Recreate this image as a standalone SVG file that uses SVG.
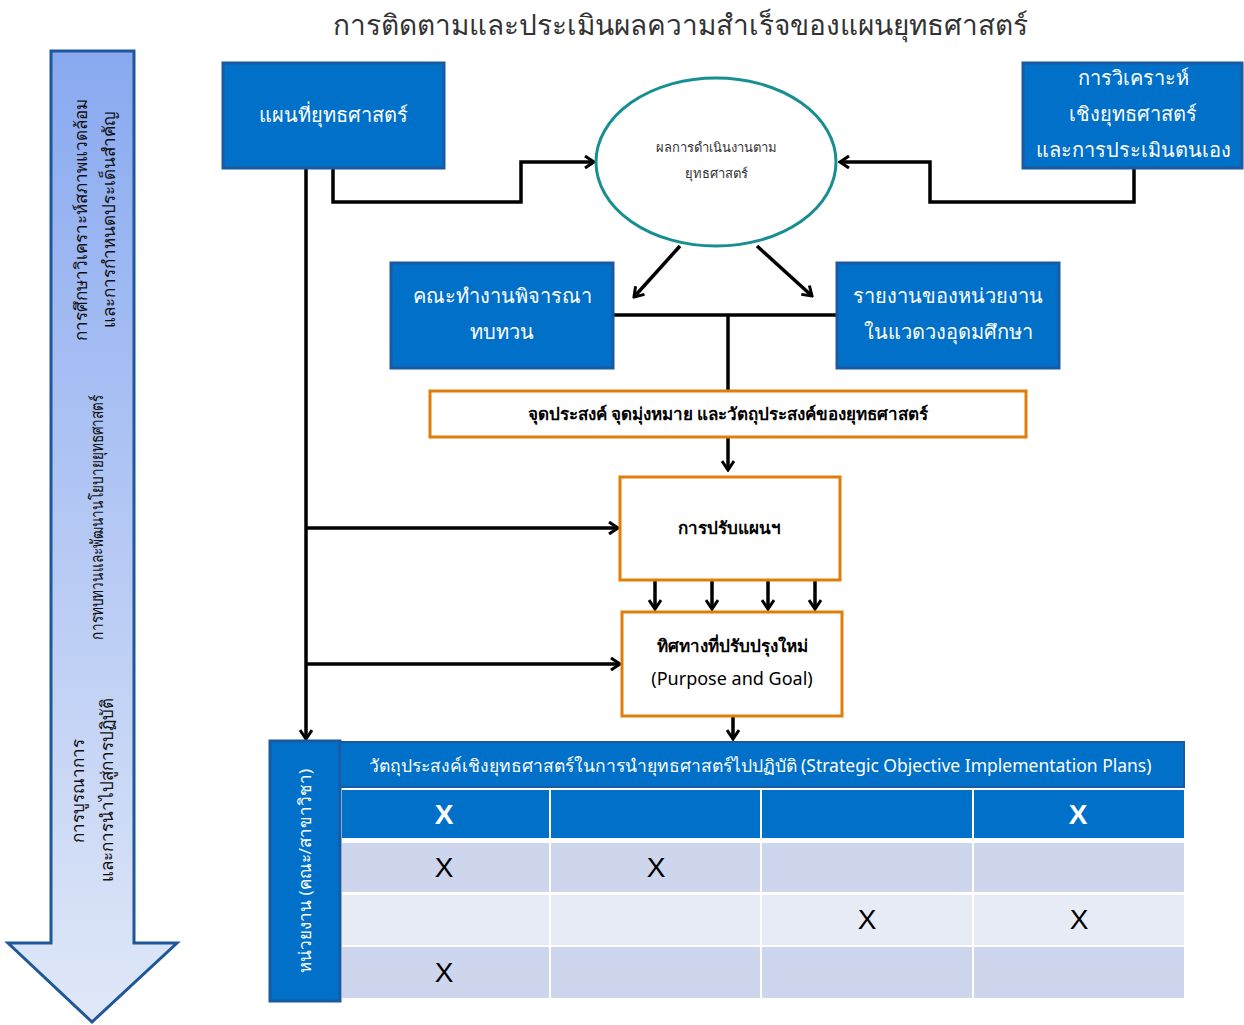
<svg xmlns="http://www.w3.org/2000/svg" width="1244" height="1025" viewBox="0 0 1244 1025">
<defs>
<linearGradient id="g1" x1="0" y1="0" x2="0" y2="1">
<stop offset="0" stop-color="#89a9f0"/>
<stop offset="1" stop-color="#e0e8f8"/>
</linearGradient>
<marker id="arr" markerWidth="12" markerHeight="14" refX="10" refY="7" orient="auto" markerUnits="userSpaceOnUse">
<path d="M1,1 L10,7 L1,13" fill="none" stroke="#000" stroke-width="3"/>
</marker>
<style>
text{font-family:"Noto Sans","DejaVu Sans","Liberation Sans",sans-serif}
.bb{fill:#0070c9;stroke:#1a5aa0;stroke-width:3}
.ob{fill:#fff;stroke:#e17d0a;stroke-width:3}
.wt{fill:#fff;font-size:20px;text-anchor:middle}
.kt{fill:#000;font-size:17px;font-weight:600;text-anchor:middle}
.lt{fill:#111;font-size:17px;text-anchor:middle}
.ln{fill:none;stroke:#000;stroke-width:3.5}
.x{font-family:"Liberation Sans",sans-serif;font-size:28px;text-anchor:middle}
</style>
</defs>
<rect width="1244" height="1025" fill="#fff"/>
<text x="680" y="35" style="font-size:28px;fill:#333;text-anchor:middle">การติดตามและประเมินผลความสำเร็จของแผนยุทธศาสตร์</text>

<g id="side-arrow">
<polygon points="51,51 134,51 134,943 177,943 92,1022 8,943 51,943" fill="url(#g1)" stroke="#1f5799" stroke-width="3"/>
<text class="lt" transform="translate(87,220) rotate(-90)">การศึกษาวิเคราะห์สภาพแวดล้อม</text>
<text class="lt" transform="translate(115,220) rotate(-90)">และการกำหนดประเด็นสำคัญ</text>
<text class="lt" transform="translate(103,517) rotate(-90)" textLength="245" lengthAdjust="spacingAndGlyphs">การทบทวนและพัฒนานโยบายยุทธศาสตร์</text>
<text class="lt" transform="translate(84,791) rotate(-90)">การบูรณาการ</text>
<text class="lt" transform="translate(113,790) rotate(-90)">และการนำไปสู่การปฏิบัติ</text>
</g>

<g id="connectors">
<polyline class="ln" points="333,168 333,202 521,202 521,162 594,162" marker-end="url(#arr)"/>
<polyline class="ln" points="1134,168 1134,202 930,202 930,162 840,162" marker-end="url(#arr)"/>
<line class="ln" x1="680" y1="246" x2="634" y2="297" marker-end="url(#arr)"/>
<line class="ln" x1="757" y1="246" x2="812" y2="296" marker-end="url(#arr)"/>
<line class="ln" x1="613" y1="315" x2="837" y2="315"/>
<line class="ln" x1="728" y1="315" x2="728" y2="391"/>
<line class="ln" x1="728" y1="437" x2="728" y2="470" marker-end="url(#arr)"/>
<line class="ln" x1="655" y1="580" x2="655" y2="609" marker-end="url(#arr)"/>
<line class="ln" x1="712" y1="580" x2="712" y2="609" marker-end="url(#arr)"/>
<line class="ln" x1="768" y1="580" x2="768" y2="609" marker-end="url(#arr)"/>
<line class="ln" x1="815" y1="580" x2="815" y2="609" marker-end="url(#arr)"/>
<line class="ln" x1="733" y1="716" x2="733" y2="739" marker-end="url(#arr)"/>
<line class="ln" x1="306" y1="168" x2="306" y2="739" marker-end="url(#arr)"/>
<line class="ln" x1="306" y1="528" x2="618" y2="528" marker-end="url(#arr)"/>
<line class="ln" x1="306" y1="664" x2="620" y2="664" marker-end="url(#arr)"/>
</g>

<g id="n-map">
<rect class="bb" x="223" y="63" width="221" height="105"/>
<text class="wt" x="333" y="122">แผนที่ยุทธศาสตร์</text>
</g>
<g id="n-result">
<ellipse cx="716" cy="162" rx="120" ry="84" fill="#fff" stroke="#178f91" stroke-width="3"/>
<text x="716" y="152" style="font-size:13px;fill:#333;text-anchor:middle">ผลการดำเนินงานตาม</text>
<text x="716" y="178" style="font-size:13px;fill:#333;text-anchor:middle">ยุทธศาสตร์</text>
</g>
<g id="n-analysis">
<rect class="bb" x="1023" y="63" width="219" height="105"/>
<text class="wt" x="1133" y="85">การวิเคราะห์</text>
<text class="wt" x="1133" y="121">เชิงยุทธศาสตร์</text>
<text class="wt" x="1133" y="157">และการประเมินตนเอง</text>
</g>
<g id="n-committee">
<rect class="bb" x="391" y="263" width="222" height="105"/>
<text class="wt" x="502" y="303">คณะทำงานพิจารณา</text>
<text class="wt" x="502" y="339">ทบทวน</text>
</g>
<g id="n-report">
<rect class="bb" x="837" y="263" width="222" height="105"/>
<text class="wt" x="948" y="303">รายงานของหน่วยงาน</text>
<text class="wt" x="948" y="339">ในแวดวงอุดมศึกษา</text>
</g>
<g id="n-purpose">
<rect class="ob" x="430" y="391" width="596" height="46"/>
<text class="kt" x="728" y="420">จุดประสงค์ จุดมุ่งหมาย และวัตถุประสงค์ของยุทธศาสตร์</text>
</g>
<g id="n-adjust">
<rect class="ob" x="620" y="477" width="220" height="103"/>
<text class="kt" x="729" y="534">การปรับแผนฯ</text>
</g>
<g id="n-direction">
<rect class="ob" x="622" y="612" width="220" height="104"/>
<text class="kt" x="732" y="652">ทิศทางที่ปรับปรุงใหม่</text>
<text class="kt" x="732" y="685" style="font-weight:normal;font-size:18px">(Purpose and Goal)</text>
</g>

<g id="n-table">
<rect x="270" y="741" width="70" height="260" fill="#0070c9" stroke="#1a5aa0" stroke-width="3"/>
<text class="wt" style="font-size:17px" transform="translate(311,871) rotate(-90)">หน่วยงาน (คณะ/สาขาวิชา)</text>
<rect x="340" y="742" width="844" height="45" fill="#0070c9" stroke="#1a5aa0" stroke-width="2"/>
<text x="760" y="772" style="font-size:17.5px;fill:#fff;text-anchor:middle" textLength="783" lengthAdjust="spacingAndGlyphs">วัตถุประสงค์เชิงยุทธศาสตร์ในการนำยุทธศาสตร์ไปปฏิบัติ (Strategic Objective Implementation Plans)</text>
<g fill="#0070c9">
<rect x="342" y="790" width="207" height="48"/>
<rect x="551" y="790" width="209" height="48"/>
<rect x="762" y="790" width="210" height="48"/>
<rect x="974" y="790" width="210" height="48"/>
</g>
<g fill="#cdd6ec">
<rect x="342" y="843" width="207" height="49"/>
<rect x="551" y="843" width="209" height="49"/>
<rect x="762" y="843" width="210" height="49"/>
<rect x="974" y="843" width="210" height="49"/>
<rect x="342" y="947" width="207" height="51"/>
<rect x="551" y="947" width="209" height="51"/>
<rect x="762" y="947" width="210" height="51"/>
<rect x="974" y="947" width="210" height="51"/>
</g>
<g fill="#e7ebf6">
<rect x="342" y="895" width="207" height="50"/>
<rect x="551" y="895" width="209" height="50"/>
<rect x="762" y="895" width="210" height="50"/>
<rect x="974" y="895" width="210" height="50"/>
</g>
<text class="x" x="444" y="824" fill="#fff" font-weight="bold">X</text>
<text class="x" x="1078" y="824" fill="#fff" font-weight="bold">X</text>
<text class="x" x="444" y="877" fill="#000">X</text>
<text class="x" x="656" y="877" fill="#000">X</text>
<text class="x" x="867" y="929" fill="#000">X</text>
<text class="x" x="1079" y="929" fill="#000">X</text>
<text class="x" x="444" y="982" fill="#000">X</text>
</g>
</svg>
